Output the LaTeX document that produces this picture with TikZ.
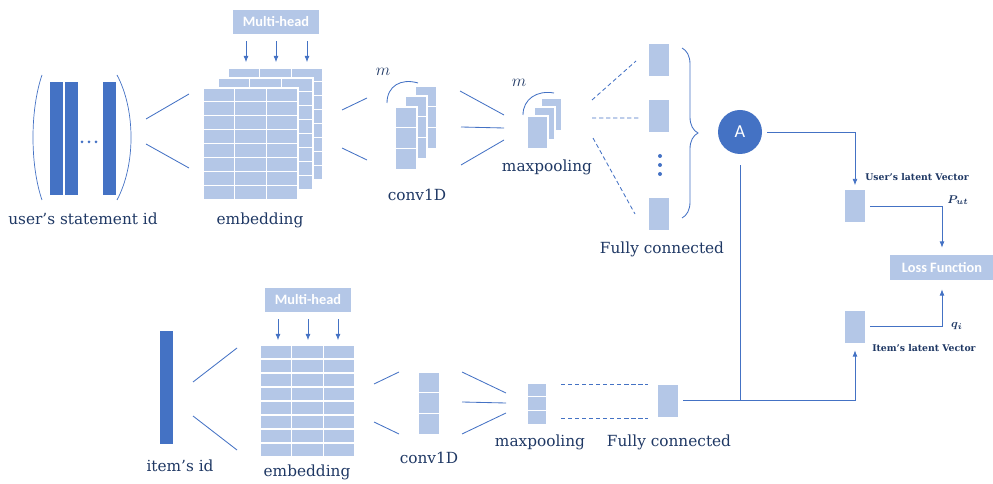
\documentclass[tikz,border=0pt]{standalone}
\usepackage{bm}
\usepackage{fontspec}
\setmainfont{DejaVu Serif}
\newfontfamily\boxfont{Carlito}
\usetikzlibrary{positioning, arrows.meta, decorations.pathreplacing}
\definecolor{lblue}{HTML}{B4C7E7}
\definecolor{dblue}{HTML}{4472C4}
\definecolor{navy}{HTML}{1F3864}
\newlength\pxu
\setlength\pxu{0.025cm}

\tikzset{
  lab/.style={text=navy, inner sep=0, font=\fontsize{10.9}{12}\selectfont},
  small/.style={text=navy, inner sep=0, font=\bfseries\fontsize{6.6}{7}\selectfont},
  head/.style={fill=lblue, text=white, inner sep=0, font=\boxfont\bfseries\fontsize{10.2}{11}\selectfont},
  vec/.style={fill=lblue, draw=white, inner sep=0, minimum width=21\pxu, minimum height=33\pxu},
  idbar/.style={fill=dblue, inner sep=0, minimum width=13\pxu, minimum height=113\pxu},
  cell/.style={fill=lblue, draw=white, line width=0.8pt},
  conn/.style={draw=dblue, line width=0.6pt},
  fan/.style={conn, dash pattern=on 3pt off 2pt},
  arr/.style={conn, -{Latex[length=4.5pt, width=3.5pt]}},
  mlab/.style={text=navy, inner sep=0, font=\fontsize{13}{14}\selectfont},
}

\begin{document}
\begin{tikzpicture}[x=0.025cm, y=-0.025cm]
  \useasboundingbox (0,0) rectangle (993,484);

  % user side
  \node[idbar] (b1) at (56.5,138.5) {};
  \node[idbar] (b2) at (71,138.5) {};
  \node[idbar] (b3) at (109.5,138.5) {};
  \foreach \x in {82,89,96} \fill[dblue] (\x,142) circle (1.5);
  \draw[dblue, line width=0.5pt] (42,75) .. controls (30,110) and (30,165) .. (42,200);
  \draw[dblue, line width=0.5pt] (117,75) .. controls (135.7,110) and (135.7,165) .. (117,200);
  \node[lab] (uid) at (83,219) {user’s statement id};

  % user embedding
  \foreach \ox/\oy in {228/68, 218/78, 203/88}
    \foreach \r in {0,...,7}
      \foreach \c in {0,1,2}
        \draw[cell] ({\ox+\c*31.67},{\oy+\r*13.9}) rectangle ++(31.67,13.9);
  \node[head, minimum width=86\pxu, minimum height=24\pxu] (mh1) at (276,22) {Multi-head};
  \foreach \dx in {-30,0,31}
    \draw[arr] ([xshift=\dx\pxu, yshift=-7\pxu]mh1.south) -- ++(0,21);
  \node[lab] (emb1) at (260,220) {embedding};

  % user conv1D / maxpooling
  \foreach \ox/\oy in {415/86, 405/96, 395/107}
    \foreach \r in {0,1,2}
      \draw[cell] (\ox,{\oy+\r*20.7}) rectangle ++(22,20.7);
  \draw[conn] (387,103) .. controls (387,86) and (401,78) .. (418,83);
  \node[mlab] (m1) at (383,72) {$m$};
  \node[lab] (cv1) at (417,195) {conv1D};

  \foreach \ox/\oy in {541/98, 534/107, 527/116}
    \draw[cell] (\ox,\oy) rectangle ++(21,33);
  \draw[conn] (523,115) .. controls (523,99) and (537,90) .. (554,93);
  \node[mlab] (m2) at (519,83) {$m$};
  \node[lab] (mp1) at (547,167) {maxpooling};

  % user fully connected
  \node[vec] (fc1) at (658.5,59.5) {};
  \node[vec] (fc2) at (658.5,115.5) {};
  \node[vec] (fc3) at (658.5,214) {};
  \foreach \y in {156,165,174} \fill[dblue] (660,\y) circle (2);
  \node[lab] (fcl1) at (662,249) {Fully connected};
  \draw[conn, decorate, decoration={brace, amplitude=16\pxu}] (682,48) -- (682,218);
  \node[circle, fill=dblue, text=white, inner sep=0, minimum size=44\pxu,
        font=\boxfont\fontsize{13}{14}\selectfont] (att) at (740,132) {A};

  % fan lines
  \path (146,119) coordinate (f1a) (189,94) coordinate (f1b)
        (146,144) coordinate (f2a) (189,168) coordinate (f2b)
        (342,110) coordinate (f3a) (367,98) coordinate (f3b)
        (342,148) coordinate (f4a) (367,160) coordinate (f4b)
        (460,91) coordinate (f5a) (504,115) coordinate (f5b)
        (461,127) coordinate (f6a) (504,128) coordinate (f6b)
        (461,165) coordinate (f7a) (504,140) coordinate (f7b)
        (592,100) coordinate (d1a) (636,61) coordinate (d1b)
        (592,118) coordinate (d2a) (639,118) coordinate (d2b)
        (593,138) coordinate (d3a) (635,214) coordinate (d3b);
  \draw[conn] (f1a) -- (f1b) (f2a) -- (f2b) (f3a) -- (f3b) (f4a) -- (f4b)
              (f5a) -- (f5b) (f6a) -- (f6b) (f7a) -- (f7b);
  \draw[fan] (d1a) -- (d1b) (d2a) -- (d2b) (d3a) -- (d3b);

  % item side
  \node[idbar] (ib) at (166.5,387.5) {};
  \node[lab] (iid) at (180,466) {item’s id};
  \foreach \r in {0,...,7}
    \foreach \c in {0,1,2}
      \draw[cell] ({260+\c*31.67},{345+\r*14}) rectangle ++(31.67,14);
  \node[head, minimum width=86\pxu, minimum height=24\pxu] (mh2) at (308,300) {Multi-head};
  \foreach \dx in {-30,0,30}
    \draw[arr] ([xshift=\dx\pxu, yshift=-7\pxu]mh2.south) -- ++(0,21);
  \node[lab] (emb2) at (307,472) {embedding};

  \foreach \r in {0,1,2}
    \draw[cell] (418,{372+\r*20.7}) rectangle ++(22,20.7);
  \node[lab] (cv2) at (429,458) {conv1D};
  \foreach \r in {0,1,2}
    \draw[cell] (527,{383+\r*13.7}) rectangle ++(20,13.7);
  \node[lab] (mp2) at (540,442) {maxpooling};
  \node[vec] (ifc) at (667.5,400.5) {};
  \node[lab] (fcl2) at (669,442) {Fully connected};

  \path (193,382) coordinate (g1a) (237,348) coordinate (g1b)
        (193,416) coordinate (g2a) (237,450) coordinate (g2b)
        (374,384) coordinate (g3a) (399,372) coordinate (g3b)
        (374,422) coordinate (g4a) (399,434) coordinate (g4b)
        (462,372) coordinate (g5a) (506,393) coordinate (g5b)
        (462,402) coordinate (g6a) (506,403) coordinate (g6b)
        (462,434) coordinate (g7a) (506,413) coordinate (g7b)
        (561,384) coordinate (e1a) (648,384) coordinate (e1b)
        (561,418) coordinate (e2a) (648,418) coordinate (e2b);
  \draw[conn] (g1a) -- (g1b) (g2a) -- (g2b) (g3a) -- (g3b) (g4a) -- (g4b)
              (g5a) -- (g5b) (g6a) -- (g6b) (g7a) -- (g7b);
  \draw[fan] (e1a) -- (e1b) (e2a) -- (e2b);

  % latent vectors and loss
  \node[vec] (ulv) at (855,206) {};
  \node[small, anchor=west] (ulvl) at (865,177) {User’s latent Vector};
  \node[vec] (ilv) at (855,326.5) {};
  \node[small, anchor=west] (ilvl) at (872,348) {Item’s latent Vector};
  \node[head, minimum width=104\pxu, minimum height=25\pxu] (loss) at (942,267.5) {Loss Function};
  \node[text=navy, inner sep=0, font=\fontsize{8}{9}\selectfont] (put) at (958,200) {$\bm{P_{ut}}$};
  \node[text=navy, inner sep=0, font=\fontsize{8}{9}\selectfont] (qi) at (957,326) {$\bm{q_i}$};

  \draw[arr, shorten <=5\pxu, shorten >=4\pxu] (att.east) -| (ulv.north);
  \draw[arr, shorten <=4\pxu, shorten >=7\pxu] (ulv.east) -| (loss.north);
  \draw[arr, shorten <=4\pxu, shorten >=9\pxu] (ilv.east) -| (loss.south);
  \draw[arr, shorten <=5\pxu, shorten >=7\pxu] (ifc.east) -| (ilv.south);
  \draw[conn, shorten <=11\pxu] (att.south) -- (att.south |- ifc.east);
\end{tikzpicture}
\end{document}
